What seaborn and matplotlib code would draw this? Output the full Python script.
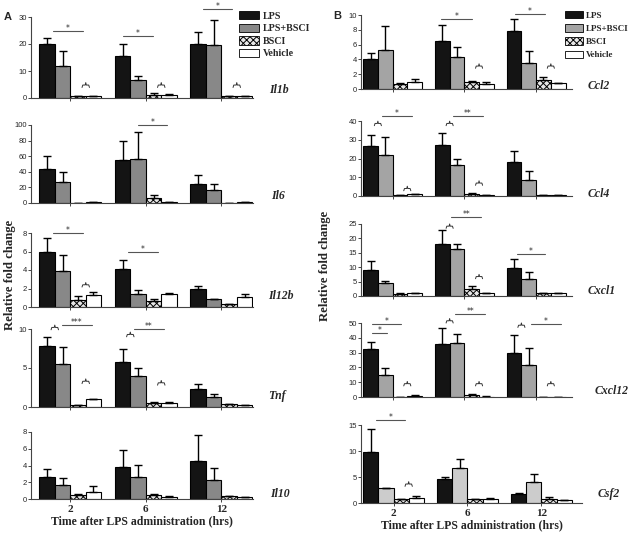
import numpy as np
import pandas as pd
import seaborn as sns
import matplotlib
matplotlib.use("Agg")
import matplotlib.pyplot as plt
from matplotlib.patches import Patch
from matplotlib.font_manager import FontProperties

times = ["2", "6", "12"]
treatments = ["LPS", "LPS+BSCI", "BSCI", "Vehicle"]

# ---- data: mean (rows: LPS, LPS+BSCI, BSCI, Vehicle; cols: 2, 6, 12 h) and SEM ----
il1b_mean = [[19.9, 15.6, 19.9], [12.0, 6.8, 19.6], [0.75, 1.2, 0.7], [0.8, 1.1, 0.8]]
il1b_sem = [[2.3, 4.3, 4.5], [5.3, 1.2, 9.3], [0.15, 0.5, 0.1], [0.1, 0.3, 0.1]]
il6_mean = [[43.4, 54.9, 24.7], [26.4, 56.2, 16.6], [0.5, 6.0, 0.5], [0.8, 1.5, 0.8]]
il6_sem = [[17.0, 25.1, 11.5], [13.6, 34.4, 7.2], [0.1, 4.0, 0.1], [0.2, 0.3, 0.2]]
il12b_mean = [[5.9, 4.14, 1.95], [3.86, 1.4, 0.86], [0.72, 0.68, 0.32], [1.3, 1.4, 1.05]]
il12b_sem = [[1.56, 0.91, 0.35], [1.8, 0.47, 0.05], [0.5, 0.18, 0.03], [0.28, 0.1, 0.39]]
tnf_mean = [[7.85, 5.79, 2.27], [5.49, 4.03, 1.24], [0.2, 0.55, 0.34], [1.0, 0.45, 0.2]]
tnf_sem = [[1.08, 1.71, 0.63], [2.23, 1.03, 0.43], [0.03, 0.15, 0.05], [0.02, 0.15, 0.02]]
il10_mean = [[2.6, 3.82, 4.53], [1.69, 2.6, 2.32], [0.51, 0.43, 0.3], [0.87, 0.2, 0.2]]
il10_sem = [[0.98, 2.08, 3.11], [0.87, 1.5, 1.34], [0.09, 0.22, 0.05], [0.63, 0.1, 0.03]]
ccl2_mean = [[4.12, 6.5, 7.9], [5.25, 4.26, 3.54], [0.67, 0.9, 1.26], [0.99, 0.67, 0.76]]
ccl2_sem = [[0.72, 2.1, 1.6], [3.22, 1.39, 1.56], [0.08, 0.22, 0.34], [0.36, 0.23, 0.09]]
ccl4_mean = [[26.7, 27.4, 18.0], [21.9, 16.4, 8.5], [0.3, 1.2, 0.5], [0.9, 0.4, 0.3]]
ccl4_sem = [[6.0, 6.4, 5.8], [9.7, 3.3, 4.8], [0.05, 0.2, 0.05], [0.2, 0.05, 0.05]]
cxcl1_mean = [[9.0, 18.2, 9.7], [4.5, 16.4, 5.8], [0.8, 2.4, 0.9], [0.9, 0.9, 0.9]]
cxcl1_sem = [[3.2, 4.6, 3.0], [0.8, 1.8, 2.4], [0.1, 1.2, 0.1], [0.2, 0.2, 0.1]]
cxcl12_mean = [[32.1, 35.7, 29.9], [14.7, 36.6, 21.9], [0.2, 1.1, 0.2], [0.7, 0.3, 0.2]]
cxcl12_sem = [[5.4, 10.7, 12.3], [4.9, 6.0, 11.1], [0.05, 0.7, 0.05], [0.4, 0.05, 0.05]]
csf2_mean = [[9.76, 4.6, 1.8], [2.8, 6.64, 3.96], [0.77, 0.7, 0.7], [1.0, 0.8, 0.6]]
csf2_sem = [[4.44, 0.38, 0.2], [0.1, 1.91, 1.64], [0.05, 0.15, 0.4], [0.28, 0.2, 0.05]]

# significance lines: (time group, bar start, bar end, y, label)
il1b_lines = [(0, 0.36, 2.3, 24.7, "*"), (1, 0.02, 1.96, 23.0, "*"), (2, 0.33, 2.22, 33.0, "*")]
il6_lines = [(1, 1.0, 2.87, 100.0, "*")]
il12b_lines = [(0, 0.36, 2.3, 8.0, "*"), (1, 0.35, 2.29, 5.95, "*")]
tnf_lines = [(0, 0.94, 2.92, 10.5, "***"), (1, 0.73, 2.67, 10.0, "**")]
il10_lines = []
ccl2_lines = [(1, -0.07, 1.99, 9.4, "*"), (2, 0.07, 2.07, 10.1, "*")]
ccl4_lines = [(0, 0.79, 2.8, 42.5, "*"), (1, 0.73, 2.75, 42.5, "**")]
cxcl1_lines = [(1, 0.62, 2.63, 27.3, "**"), (2, 0.18, 2.13, 14.6, "*")]
cxcl12_lines = [(0, 0.1, 2.1, 49.5, "*"), (0, 0.1, 1.09, 43.3, "*"), (1, 0.89, 2.9, 55.8, "**"), (2, 1.17, 3.16, 49.0, "*")]
csf2_lines = [(0, 0.33, 2.29, 16.0, "*")]

# braces: (time group, bar a, bar b, y)
il1b_braces = [(0, 2, 3, 3.9), (1, 2, 3, 3.9), (2, 2, 3, 3.9)]
il6_braces = []
il12b_braces = [(0, 2, 3, 2.16)]
tnf_braces = [(0, 0, 1, 9.9), (0, 2, 3, 3.0), (1, 0, 1, 9.0), (1, 2, 3, 2.8)]
il10_braces = []
ccl2_braces = [(1, 2, 3, 2.8), (2, 2, 3, 2.8)]
ccl4_braces = [(0, 0, 1, 37.5), (0, 2, 3, 2.8), (1, 0, 1, 37.5), (1, 2, 3, 5.7)]
cxcl1_braces = [(1, 0, 1, 23.5), (1, 2, 3, 6.0)]
cxcl12_braces = [(0, 2, 3, 7.5), (1, 0, 1, 50.0), (1, 2, 3, 7.5), (2, 0, 1, 47.0), (2, 2, 3, 7.5)]
csf2_braces = [(0, 2, 3, 3.2)]

W, H = 634, 534
fig = plt.figure(figsize=(W / 100, H / 100), dpi=100)
sns.set_style("ticks")
plt.rcParams["hatch.linewidth"] = 0.7

serif_b = FontProperties(family="Liberation Serif", weight="bold")
BAR_W = 0.82
BW = BAR_W / 4


def off(b):
    return (b - 1.5) * BW


panels = [
    ("Il1b", il1b_mean, il1b_sem, il1b_lines, il1b_braces, 30, 10, (31, 253, 17, 98), (269, 93), "#888888", (-0.52, 2.42)),
    ("Il6", il6_mean, il6_sem, il6_lines, il6_braces, 100, 20, (31, 253, 125, 203), (271, 199), "#888888", (-0.52, 2.42)),
    ("Il12b", il12b_mean, il12b_sem, il12b_lines, il12b_braces, 8, 2, (31, 253, 233, 307), (268, 299), "#888888", (-0.52, 2.42)),
    ("Tnf", tnf_mean, tnf_sem, tnf_lines, tnf_braces, 10, 5, (31, 253, 329, 407), (268, 399), "#888888", (-0.52, 2.42)),
    ("Il10", il10_mean, il10_sem, il10_lines, il10_braces, 8, 2, (31, 253, 432, 499), (270, 497), "#888888", (-0.52, 2.42)),
    ("Ccl2", ccl2_mean, ccl2_sem, ccl2_lines, ccl2_braces, 10, 2, (361, 572, 15, 89), (588, 89), "#a4a4a4", (-0.44, 2.5)),
    ("Ccl4", ccl4_mean, ccl4_sem, ccl4_lines, ccl4_braces, 40, 10, (361, 572, 121, 196), (588, 197), "#a4a4a4", (-0.44, 2.5)),
    ("Cxcl1", cxcl1_mean, cxcl1_sem, cxcl1_lines, cxcl1_braces, 25, 5, (361, 572, 224, 296), (588, 294), "#a4a4a4", (-0.44, 2.5)),
    ("Cxcl12", cxcl12_mean, cxcl12_sem, cxcl12_lines, cxcl12_braces, 50, 10, (361, 572, 323, 397), (595, 394), "#a4a4a4", (-0.44, 2.5)),
    ("Csf2", csf2_mean, csf2_sem, csf2_lines, csf2_braces, 15, 5, (361, 582, 425, 503), (598, 497), "#cccccc", (-0.44, 2.55)),
]

for idx, (name, mean, sem, lines, braces, ymax, ystep, (x0, x1, top, bot), (lx, ly), gcol, xlim) in enumerate(panels):
    ax = fig.add_axes([x0 / W, 1 - bot / H, (x1 - x0) / W, (bot - top) / H])
    rows = []
    for ti, t in enumerate(treatments):
        for ci, tm in enumerate(times):
            rows.append({"time": tm, "treat": t, "value": mean[ti][ci], "sem": sem[ti][ci]})
    df = pd.DataFrame(rows)
    pal = {"LPS": "#141414", "LPS+BSCI": gcol, "BSCI": "#e8e8e8", "Vehicle": "white"}
    sns.barplot(data=df, x="time", y="value", hue="treat", order=times, hue_order=treatments,
                palette=pal, width=BAR_W, errorbar=None, edgecolor="black", linewidth=0.8,
                legend=False, ax=ax, saturation=1)
    bar_conts = list(ax.containers)
    for ti, cont in enumerate(bar_conts):
        xs = [p.get_x() + p.get_width() / 2 for p in cont]
        ys = [p.get_height() for p in cont]
        if treatments[ti] == "BSCI":
            for p in cont:
                p.set_hatch("xxxxx")
        ax.errorbar(xs, ys, yerr=[np.zeros(3), sem[ti]], fmt="none", ecolor="black",
                    elinewidth=1.0, capsize=2.6, capthick=1.0, zorder=1)
    ax.set_xlim(*xlim)
    ax.set_ylim(0, ymax)
    ax.set_yticks(np.arange(0, ymax + 0.01, ystep))
    for lab in ax.get_yticklabels():
        lab.set_fontfamily("Liberation Sans")
        lab.set_fontsize(5.5)
    ax.tick_params(axis="both", length=2, width=0.7, pad=1, color="#444444")
    ax.set_xlabel("")
    ax.set_ylabel("")
    sns.despine(ax=ax)
    for s in ("left", "bottom"):
        ax.spines[s].set_linewidth(0.8)
        ax.spines[s].set_color("#444444")
    ax.set_xticks(range(3))
    if name in ("Il10", "Csf2"):
        ax.set_xticklabels(times, fontproperties=serif_b, fontsize=8)
        ax.tick_params(axis="x", pad=2)
        ax.set_xlabel("Time after LPS administration (hrs)", fontproperties=serif_b, fontsize=8.5, labelpad=1.5)
    else:
        ax.set_xticklabels([])

    for (g, b1, b2, y, lab) in lines:
        xa, xb = g + off(b1), g + off(b2)
        ax.plot([xa, xb], [y, y], color="#555555", lw=0.8, clip_on=False)
        ax.text((xa + xb) / 2, y, lab, ha="center", va="baseline", fontsize=5.5,
                fontfamily="DejaVu Sans", clip_on=False)
    for (g, a, b, y) in braces:
        xm = g + off((a + b) / 2)
        hw = 0.24 * BW
        h = 0.03 * ymax
        p = 0.03 * ymax
        bx = [xm - hw, xm - 0.8 * hw, xm - 0.15 * hw, xm, xm + 0.15 * hw, xm + 0.8 * hw, xm + hw]
        by = [y, y + h, y + h, y + h + p, y + h, y + h, y]
        ax.plot(bx, by, color="#333333", lw=0.7, clip_on=False)

    fig.text(lx / W, 1 - ly / H, name, fontproperties=serif_b, style="italic", fontsize=8.5,
             ha="left", va="baseline")

fig.text(4 / W, 1 - 20 / H, "A", fontsize=8, fontweight="bold", fontfamily="Liberation Sans")
fig.text(333 / W, 1 - 19 / H, "B", fontsize=8, fontweight="bold", fontfamily="Liberation Sans")

fig.text(10 / W, 1 - 275 / H, "Relative fold change", rotation=90, ha="center", va="center",
         fontproperties=serif_b, fontsize=9.2)
fig.text(325 / W, 1 - 266 / H, "Relative fold change", rotation=90, ha="center", va="center",
         fontproperties=serif_b, fontsize=9.2)

for (lx, ly, gcol, fs, lsp, hl) in [(239, 11, "#888888", 7.2, 0.3, 2.0), (565, 11, "#a4a4a4", 6.5, 0.48, 2.0)]:
    handles = [
        Patch(facecolor="#141414", edgecolor="black", lw=0.6),
        Patch(facecolor=gcol, edgecolor="black", lw=0.6),
        Patch(facecolor="#e8e8e8", edgecolor="black", hatch="xxxxx", lw=0.6),
        Patch(facecolor="white", edgecolor="black", lw=0.6),
    ]
    fig.legend(handles, treatments, loc="upper left", bbox_to_anchor=(lx / W, 1 - ly / H),
               frameon=False, prop=FontProperties(family="Liberation Serif", weight="bold", size=fs),
               handlelength=hl, handleheight=0.9,
               labelspacing=lsp, handletextpad=0.35, borderpad=0, borderaxespad=0)

fig.savefig("out.png", dpi=100)
